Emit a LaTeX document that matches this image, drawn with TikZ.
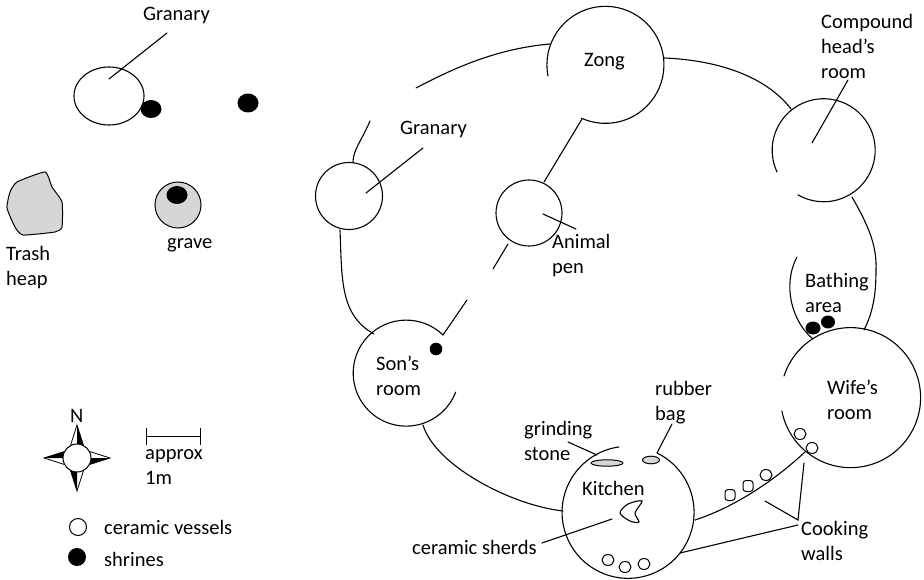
\documentclass[tikz,border=0pt]{standalone}
\usepackage{fontspec}
\setmainfont{Carlito}
\usepackage{tikz}
\tikzset{
  lbl/.style={anchor=west, align=left, inner sep=0pt, font=\fontsize{20.5}{25}\selectfont},
  wall/.style={line width=1.1pt, line cap=round},
  shrine/.style={fill=black},
  vessel/.style={draw=black, line width=1pt, fill=white},
  heap/.style={draw=black, line width=1pt, fill=black!16}
}
\begin{document}
\begin{tikzpicture}[x=1pt, y=-1pt]
  \useasboundingbox (0,0) rectangle (924,580);
  % walls between the rooms
  \draw[wall] (548,76) arc[start angle=169, end angle=474, radius=58.5];
  \draw[wall] (550,44) .. controls (505,48) and (465,62) .. (416,88);
  \draw[wall] (370,121) .. controls (362,140) and (353,150) .. (353,162);
  \draw[wall] (349,196) circle (33.5);
  \draw[wall] (340,230) .. controls (342,280) and (340,315) .. (374,334);
  \draw[wall] (443,335) arc[start angle=-46, end angle=-339, radius=53];
  \draw[wall] (443,335) -- (467,300);
  \draw[wall] (529,213) circle (33);
  \draw[wall] (544,182) -- (582,119);
  \draw[wall] (508,244) -- (493,269);
  \draw[wall] (777,172) arc[start angle=155, end angle=480, radius=51.5];
  \draw[wall] (664,58) .. controls (715,60) and (765,75) .. (791,109);
  \draw[wall] (852,197) .. controls (868,225) and (877,245) .. (876,270) .. controls (876,295) and (873,312) .. (864,330);
  \draw[wall] (797,257) .. controls (782,285) and (792,322) .. (813,339);
  \draw[wall] (784,376) arc[start angle=198, end angle=529, radius=70];
  \draw[wall] (657,453) arc[start angle=296, end angle=622, radius=66];
  \draw[wall] (423,425) .. controls (435,465) and (510,505) .. (563,511);
  \draw[wall] (695,520) .. controls (735,507) and (775,480) .. (805,452);
  % leader lines
  \draw[wall] (167,33) -- (109,79);
  \draw[wall] (423,148) -- (366,193);
  \draw[wall] (543,214) -- (576,229);
  \draw[wall] (848,80) -- (812,143);
  \draw[wall] (568,442) -- (597,455);
  \draw[wall] (672,424) -- (657,453);
  \draw[wall] (612,519) -- (542,543);
  \draw[wall] (765,501) -- (798,520) -- (804,463);
  \draw[wall] (798,525) -- (680,553);
  % compound yard
  \draw[wall] (109,96) ellipse (35 and 29);
  \fill[shrine] (151,109) ellipse (10.5 and 9);
  \fill[shrine] (248,103) ellipse (10.5 and 9.5);
  \draw[heap] plot[smooth cycle, tension=0.3] coordinates {(17,182) (45,172) (52,187) (62,202) (62,227) (55,232) (23,235) (15,227) (7,208) (10,192)};
  \draw[heap] (178,205) circle (23);
  \fill[shrine] (177,195) ellipse (10.5 and 9);
  % finds inside the rooms
  \fill[shrine] (436,349) circle (6.3);
  \fill[shrine] (813,328) ellipse (7.5 and 6.5);
  \fill[shrine] (828,322) ellipse (7 and 6.5);
  \draw[heap] (607,463) ellipse (16 and 3.2);
  \draw[heap] (651,460) ellipse (8.5 and 3.8);
  \draw[wall] plot[smooth cycle, tension=0.5] coordinates {(620,513) (628,504) (642,501) (635,513) (639,522) (630,521)};
  \foreach \vx/\vy in {608/560, 625/567, 644/564, 766/475, 800/434, 812/448}
    \draw[vessel] (\vx,\vy) ellipse (6 and 5.5);
  \foreach \vx/\vy in {730/495, 748/486}
    \draw[vessel, rounded corners=3pt] (\vx-5,\vy-5.5) rectangle (\vx+5,\vy+5.5);
  % compass and scale
  \foreach \ang in {0,90,180,270} {
    \begin{scope}[shift={(77,458)}, rotate=\ang]
      \draw[line width=0.8pt] (0,-33) -- (-7,-11) -- (7,-11) -- cycle;
      \fill (0,-33) -- (7,-11) -- (0,-11) -- cycle;
    \end{scope}
  }
  \draw[vessel] (77,458) circle (14);
  \draw[line width=0.8pt] (146,428) -- (146,445);
  \draw[line width=0.8pt] (200,428) -- (200,445);
  \draw[line width=0.8pt] (146,436.5) -- (200,436.5);
  \draw[vessel] (78,527) circle (8.5);
  \fill[shrine] (77,557) circle (9);
  % labels
  \node[lbl] (granaryA) at (143,16) {Granary};
  \node[lbl] (trash) at (6,268) {Trash\\heap};
  \node[lbl] (grave) at (167,245) {grave};
  \node[lbl] (north) at (70,416) {N};
  \node[lbl] (scale) at (145,467) {approx\\1m};
  \node[lbl] (legendA) at (104,527) {ceramic vessels};
  \node[lbl] (legendB) at (104,559) {shrines};
  \node[lbl] (zong) at (584,62) {Zong};
  \node[lbl] (granaryB) at (400,130) {Granary};
  \node[lbl] (animal) at (552,256) {Animal\\pen};
  \node[lbl] (son) at (376,376) {Son’s\\room};
  \node[lbl] (compound) at (821,46) {Compound\\head’s\\room};
  \node[lbl] (bathing) at (805,293) {Bathing\\area};
  \node[lbl] (wife) at (827,400) {Wife’s\\room};
  \node[lbl] (rubber) at (655,403) {rubber\\bag};
  \node[lbl] (grinding) at (524,441) {grinding\\stone};
  \node[lbl] (kitchen) at (582,488) {Kitchen};
  \node[lbl] (sherds) at (412,547) {ceramic sherds};
  \node[lbl] (cooking) at (801,541) {Cooking\\walls};
\end{tikzpicture}
\end{document}
